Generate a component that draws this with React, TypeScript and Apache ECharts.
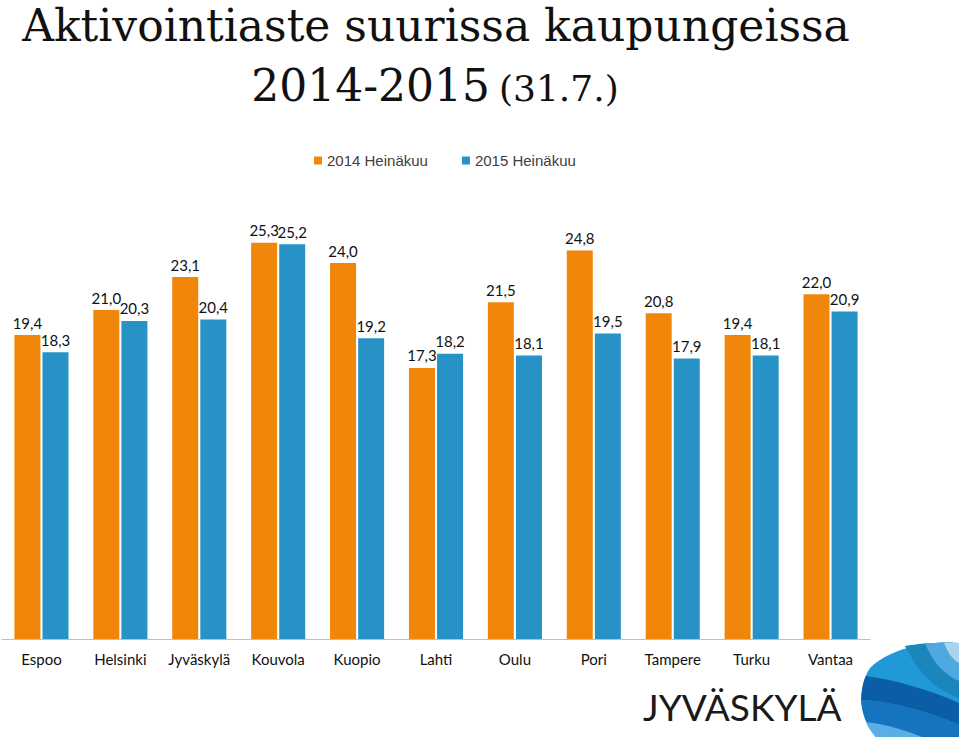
import React, { useEffect, useRef } from "react";
import * as echarts from "echarts";

const categories = ["Espoo", "Helsinki", "Jyväskylä", "Kouvola", "Kuopio", "Lahti", "Oulu", "Pori", "Tampere", "Turku", "Vantaa"];
const values2014 = [19.4, 21.0, 23.1, 25.3, 24.0, 17.3, 21.5, 24.8, 20.8, 19.4, 22.0];
const values2015 = [18.3, 20.3, 20.4, 25.2, 19.2, 18.2, 18.1, 19.5, 17.9, 18.1, 20.9];
const seriesNames = ["2014 Heinäkuu", "2015 Heinäkuu"];
const titleLine1 = "Aktivointiaste suurissa kaupungeissa";
const titleLine2a = "2014-2015";
const titleLine2b = "(31.7.)";
const logoText = "JYVÄSKYLÄ";

const ORANGE = "#F0870A";
const BLUE = "#2692C5";

let shapesRegistered = false;
function registerShapes() {
  if (shapesRegistered) return;
  shapesRegistered = true;
  const shapes: Record<string, string> = {
    blobOuter: "M 959 643 C 925 640 888 650 870 668 C 857 688 858 716 876 737 L 959 737 Z",
    blobBandDark: "M 866 676 C 895 680 930 690 959 703 L 959 725 C 930 712 895 702 861 700 C 862 690 863 682 866 676 Z",
    blobBandMid: "M 861 700 C 895 702 930 712 959 725 L 959 737 L 876 737 C 867 727 862 714 861 700 Z",
    blobBandLow: "M 866 722 C 885 724 905 730 922 737 L 876 737 C 871 732 868 727 866 722 Z",
    blobArcTeal: "M 905 646 C 918 672 935 690 959 698 L 959 643 C 940 642 920 643 905 646 Z",
    blobArcLight: "M 925 643 C 932 662 945 675 959 681 L 959 643 Z",
    blobArcLightest: "M 944 643 C 948 653 953 660 959 663 L 959 643 Z",
  };
  Object.keys(shapes).forEach((k) => {
    echarts.graphic.registerShape(k, echarts.graphic.extendPath(shapes[k], {}) as any);
  });
}

const fmt = (p: any) => Number(p.value).toFixed(1).replace(".", ",");

export default function App() {
  const ref = useRef<HTMLDivElement>(null);
  useEffect(() => {
    registerShapes();
    const chart = echarts.init(ref.current!, undefined, { renderer: "svg" });
    const labelStyle = {
      show: true,
      position: "top" as const,
      distance: 5,
      formatter: fmt,
      fontFamily: "Lato",
      fontSize: 15,
      color: "#111",
    };
    chart.setOption({
      animation: false,
      backgroundColor: "#fff",
      legend: {
        left: 314,
        top: 153,
        padding: 0,
        itemWidth: 8,
        itemHeight: 8,
        itemGap: 34,
        icon: "rect",
        textStyle: { fontFamily: "Liberation Sans", fontSize: 15, color: "#404040" },
        data: seriesNames,
      },
      grid: { left: 2, right: 89, top: 169, bottom: 98, containLabel: false },
      xAxis: {
        type: "category",
        data: categories,
        axisLine: { show: true, lineStyle: { color: "#BFBFBF", width: 1 } },
        axisTick: { show: false },
        axisLabel: { interval: 0, margin: 12, fontFamily: "Lato", fontSize: 15, color: "#111" },
      },
      yAxis: {
        type: "value",
        min: 0,
        max: 30,
        show: false,
        splitLine: { show: false },
      },
      series: [
        {
          name: seriesNames[0],
          type: "bar",
          data: values2014,
          barWidth: 26,
          barGap: "8%",
          itemStyle: { color: ORANGE },
          label: labelStyle,
        },
        {
          name: seriesNames[1],
          type: "bar",
          data: values2015,
          barWidth: 26,
          barGap: "8%",
          itemStyle: { color: BLUE },
          label: labelStyle,
        },
      ],
      graphic: [
        {
          type: "text",
          x: 436,
          y: 25,
          style: {
            text: titleLine1,
            fontFamily: "DejaVu Serif",
            fontSize: 44,
            fill: "#111",
            textAlign: "center",
            textVerticalAlign: "middle",
          },
        },
        {
          type: "text",
          x: 490,
          y: 85,
          style: {
            text: titleLine2a,
            fontFamily: "DejaVu Serif",
            fontSize: 44,
            fill: "#111",
            textAlign: "right",
            textVerticalAlign: "middle",
          },
        },
        {
          type: "text",
          x: 499,
          y: 88,
          style: {
            text: titleLine2b,
            fontFamily: "DejaVu Serif",
            fontSize: 36,
            fill: "#111",
            textAlign: "left",
            textVerticalAlign: "middle",
          },
        },
        {
          type: "text",
          x: 643,
          y: 706,
          style: {
            text: logoText,
            fontFamily: "Lato",
            fontSize: 37,
            fill: "#1a1a1a",
            textAlign: "left",
            textVerticalAlign: "middle",
          },
        },
        { type: "blobOuter", x: 0, y: 0, style: { fill: "#2199D8" } },
        { type: "blobArcTeal", x: 0, y: 0, style: { fill: "#1B86BC" } },
        { type: "blobArcLight", x: 0, y: 0, style: { fill: "#4FA8DE" } },
        { type: "blobArcLightest", x: 0, y: 0, style: { fill: "#A8D4F0" } },
        { type: "blobBandDark", x: 0, y: 0, style: { fill: "#0B5DA6" } },
        { type: "blobBandMid", x: 0, y: 0, style: { fill: "#1674BE" } },
        { type: "blobBandLow", x: 0, y: 0, style: { fill: "#5AAEE3" } },
      ],
    });
    return () => chart.dispose();
  }, []);
  return (
    <div
      ref={ref}
      style={{ position: "fixed", left: 0, top: 0, width: 959, height: 737 }}
    />
  );
}
